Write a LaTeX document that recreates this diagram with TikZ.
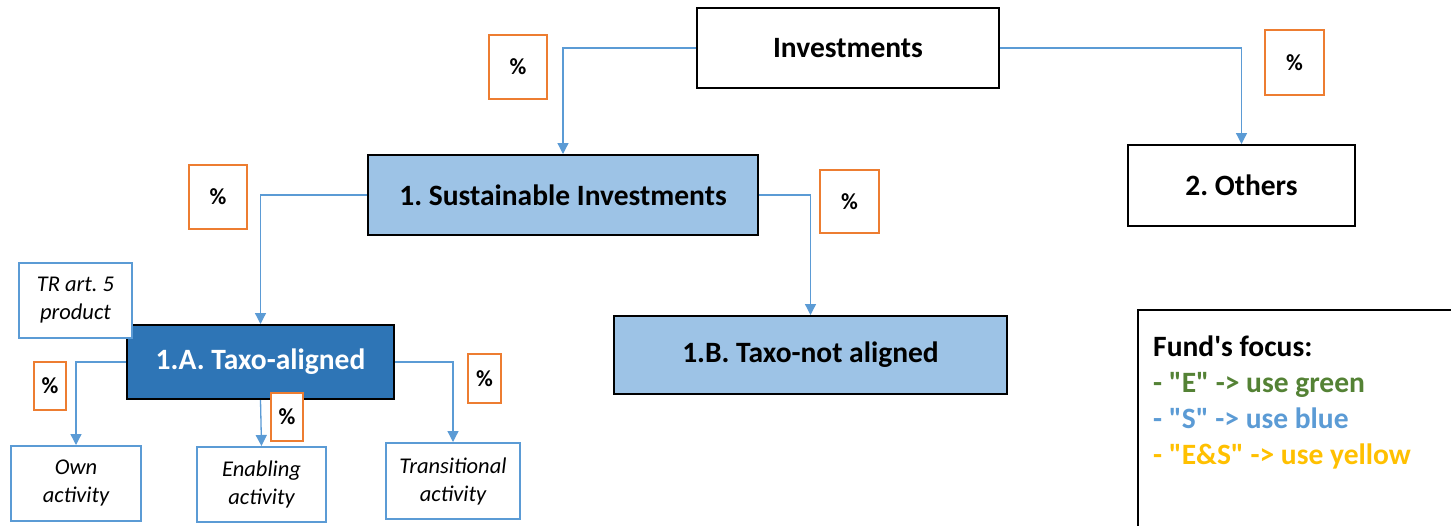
\documentclass[tikz,border=0pt]{standalone}
\usepackage{fontspec}
\setmainfont{Carlito}
\usetikzlibrary{arrows.meta}
\definecolor{lineblue}{HTML}{5B9BD5}
\definecolor{pctorange}{HTML}{ED7D31}
\definecolor{lightfill}{HTML}{9DC3E6}
\definecolor{darkfill}{HTML}{2E75B6}
\definecolor{txtgreen}{HTML}{548235}
\definecolor{txtyellow}{HTML}{FFC000}
\tikzset{
  mainbox/.style={draw=black, line width=2pt, inner sep=0pt, font=\bfseries\fontsize{29.5}{33}\selectfont},
  pctbox/.style={draw=pctorange, line width=2pt, fill=white, inner sep=0pt, font=\bfseries\fontsize{23}{26}\selectfont},
  subbox/.style={draw=lineblue, line width=2pt, fill=white, inner sep=0pt, align=center, font=\itshape\fontsize{22.5}{28}\selectfont},
  conn/.style={draw=lineblue, line width=1.3pt, -{Triangle[length=11pt,width=11pt]}},
}
\begin{document}
\frenchspacing
\begin{tikzpicture}[x=1pt,y=-1pt]
\clip (0,0) rectangle (1451,525);
\useasboundingbox (0,0) rectangle (1451,525);
\fill[white] (0,0) rectangle (1451,525);

\node[mainbox, minimum width=302, minimum height=80] (inv) at (848,48) {Investments};
\node[mainbox, fill=lightfill, minimum width=390, minimum height=80] (sust) at (563,195) {1. Sustainable Investments};
\node[mainbox, minimum width=227, minimum height=81] (oth) at (1241.5,185.5) {2. Others};
\node[mainbox, fill=lightfill, minimum width=393, minimum height=78] (taxn) at (810.5,355) {1.B. Taxo-not aligned};
\node[mainbox, fill=darkfill, text=white, minimum width=267, minimum height=74] (taxa) at (260.5,362) {1.A. Taxo-aligned};
\node[subbox, minimum width=113, minimum height=75] (tr) at (75.5,300.5) {TR art. 5\\product};
\node[subbox, minimum width=130, minimum height=75] (own) at (76,483.5) {Own\\activity};
\node[subbox, minimum width=129, minimum height=75] (enab) at (261.5,484.5) {Enabling\\activity};
\node[subbox, minimum width=134, minimum height=76] (trans) at (453,481) {Transitional\\activity};

\draw[conn] (inv.west) -| (sust.north);
\draw[conn] (inv.east) -| (oth.north);
\draw[conn] (sust.west) -| (taxa.north);
\draw[conn] (sust.east) -| (taxn.north);
\draw[conn] (taxa.west) -| (own.north);
\draw[conn] (taxa.south) -- (enab.north);
\draw[conn] (taxa.east) -| (trans.north);

\node[pctbox, minimum width=58, minimum height=64] (p1) at (518,67) {\%};
\node[pctbox, minimum width=59, minimum height=65] (p2) at (1294.5,62.5) {\%};
\node[pctbox, minimum width=58, minimum height=64] (p3) at (218,197) {\%};
\node[pctbox, minimum width=59, minimum height=63] (p4) at (849.5,201.5) {\%};
\node[pctbox, minimum width=32, minimum height=48] (p5) at (50,386) {\%};
\node[pctbox, minimum width=32, minimum height=48] (p6) at (287,417) {\%};
\node[pctbox, minimum width=33, minimum height=49] (p7) at (484.5,378.5) {\%};

\node[draw=black, line width=2pt, anchor=north west, minimum width=340, minimum height=260, inner sep=0pt] (legend) at (1137,309) {};
\node[anchor=north west, align=left, inner sep=0pt, font=\bfseries\fontsize{29.5}{36}\selectfont] (legtext) at (1153,336)
  {Fund\textquotesingle s focus:\\
   \textcolor{txtgreen}{- \textquotedbl E\textquotedbl{} -> use green}\\
   \textcolor{lineblue}{- \textquotedbl S\textquotedbl{} -> use blue}\\
   \textcolor{txtyellow}{- \textquotedbl E\&S\textquotedbl{} -> use yellow}};
\end{tikzpicture}
\end{document}
